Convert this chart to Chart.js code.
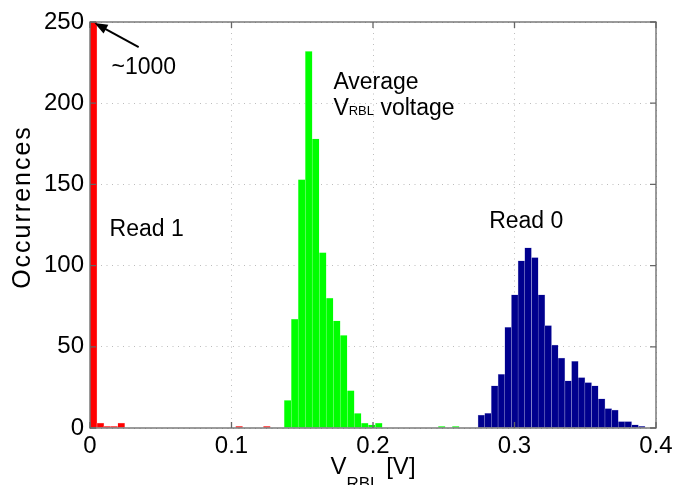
<!DOCTYPE html>
<html>
<head>
<meta charset="utf-8">
<script src="https://cdn.jsdelivr.net/npm/chart.js@4.4.1/dist/chart.umd.min.js"></script>
<style>
  html, body { margin: 0; padding: 0; background: #fff; }
</style>
</head>
<body>
<canvas id="hist" width="689" height="485"></canvas>
<script>
// bin centres [V] and counts
const redBins = [0.0025, 0.0074, 0.0123, 0.0172, 0.0221, 0.1054, 0.1250];
const redCounts = [1000, 3, 1, 1, 3, 1, 1];

const greenBins = [0.1397, 0.1447, 0.1496, 0.1546, 0.1595, 0.1645, 0.1694, 0.1744,
  0.1793, 0.1843, 0.1892, 0.1942, 0.1991, 0.2041, 0.2486, 0.2585];
const greenCounts = [17, 67, 153, 232, 178, 108, 80, 66, 57, 23, 9, 3, 2, 3, 1, 1];

const blueBins = [0.2766, 0.2813, 0.2860, 0.2908, 0.2955, 0.3002, 0.3049, 0.3096,
  0.3144, 0.3191, 0.3238, 0.3285, 0.3332, 0.3380, 0.3427, 0.3474, 0.3521, 0.3568,
  0.3616, 0.3663, 0.3710, 0.3757, 0.3804, 0.3852, 0.3899];
const blueCounts = [8, 9, 26, 33, 62, 82, 103, 111, 105, 82, 63, 51, 43, 29, 41, 31,
  28, 26, 18, 12, 11, 4, 4, 2, 1];

const xTicks = [0, 0.1, 0.2, 0.3, 0.4];
const yTicks = [0, 50, 100, 150, 200, 250];

const FONT = '"Liberation Sans", Arial, Helvetica, sans-serif';

function toPoints(bins, counts) {
  return bins.map((b, i) => ({ x: b, y: counts[i] }));
}

// text with a small subscript, starting at x on baseline y
function subText(ctx, parts, x, y) {
  parts.forEach(p => {
    ctx.font = p.size + 'px ' + FONT;
    ctx.fillText(p.t, x, y + (p.dy || 0));
    x += ctx.measureText(p.t).width;
  });
  return x;
}

function partsWidth(ctx, parts) {
  let w = 0;
  parts.forEach(p => {
    ctx.font = p.size + 'px ' + FONT;
    w += ctx.measureText(p.t).width;
  });
  return w;
}

const frame = {
  id: 'frame',
  afterDatasetsDraw(chart) {
    const { ctx, chartArea: a } = chart;
    const x = chart.scales.x, y = chart.scales.y;
    ctx.save();

    // box and inward ticks
    ctx.strokeStyle = '#666';
    ctx.lineWidth = 1.3;
    ctx.strokeRect(a.left, a.top, a.right - a.left, a.bottom - a.top);
    ctx.beginPath();
    xTicks.forEach(v => {
      const px = x.getPixelForValue(v);
      ctx.moveTo(px, a.bottom); ctx.lineTo(px, a.bottom - 6);
      ctx.moveTo(px, a.top); ctx.lineTo(px, a.top + 6);
    });
    yTicks.forEach(v => {
      const py = y.getPixelForValue(v);
      ctx.moveTo(a.left, py); ctx.lineTo(a.left + 6, py);
      ctx.moveTo(a.right, py); ctx.lineTo(a.right - 6, py);
    });
    ctx.stroke();

    // arrow to the clipped Read 1 bar
    const tx = x.getPixelForValue(0.0344), ty = y.getPixelForValue(234.6);
    const hx = x.getPixelForValue(0.0032), hy = y.getPixelForValue(249.4);
    const ang = Math.atan2(hy - ty, hx - tx);
    ctx.strokeStyle = '#000';
    ctx.fillStyle = '#000';
    ctx.lineWidth = 2;
    ctx.beginPath();
    ctx.moveTo(tx, ty);
    ctx.lineTo(hx - 8 * Math.cos(ang), hy - 8 * Math.sin(ang));
    ctx.stroke();
    ctx.beginPath();
    ctx.moveTo(hx, hy);
    ctx.lineTo(hx - 13 * Math.cos(ang) + 5 * Math.sin(ang), hy - 13 * Math.sin(ang) - 5 * Math.cos(ang));
    ctx.lineTo(hx - 13 * Math.cos(ang) - 5 * Math.sin(ang), hy - 13 * Math.sin(ang) + 5 * Math.cos(ang));
    ctx.closePath();
    ctx.fill();

    // annotations
    ctx.textAlign = 'left';
    ctx.textBaseline = 'alphabetic';
    ctx.font = '23px ' + FONT;
    ctx.fillText('~1000', x.getPixelForValue(0.0152), y.getPixelForValue(218));
    ctx.fillText('Read 1', x.getPixelForValue(0.0138), y.getPixelForValue(118));
    ctx.fillText('Read 0', x.getPixelForValue(0.2821), y.getPixelForValue(123));
    ctx.fillText('Average', x.getPixelForValue(0.172), y.getPixelForValue(209));
    subText(ctx, [
      { t: 'V', size: 23 },
      { t: 'RBL', size: 13 },
      { t: ' voltage', size: 23 }
    ], x.getPixelForValue(0.172), y.getPixelForValue(193));

    // axis titles
    const xt = [
      { t: 'V', size: 24 },
      { t: 'RBL', size: 17, dy: 15 },
      { t: ' [V]', size: 24 }
    ];
    const cx = (a.left + a.right) / 2;
    subText(ctx, xt, cx - partsWidth(ctx, xt) / 2, 474);

    ctx.save();
    ctx.translate(23, 207);
    ctx.rotate(-Math.PI / 2);
    ctx.textAlign = 'center';
    ctx.textBaseline = 'middle';
    ctx.font = '25px ' + FONT;
    ctx.letterSpacing = '2px';
    ctx.fillText('Occurrences', 0, 0);
    ctx.restore();

    ctx.restore();
  }
};

new Chart(document.getElementById('hist'), {
  type: 'bar',
  data: {
    datasets: [
      {
        label: 'Read 1',
        data: toPoints(redBins, redCounts),
        backgroundColor: '#ff0000',
        borderColor: '#ffb4b4',
        borderWidth: 0.5,
        barThickness: 6.9,
        grouped: false
      },
      {
        label: 'Average VRBL voltage',
        data: toPoints(greenBins, greenCounts),
        backgroundColor: '#00ff00',
        borderColor: '#c4ffc4',
        borderWidth: 0.5,
        barThickness: 7,
        grouped: false
      },
      {
        label: 'Read 0',
        data: toPoints(blueBins, blueCounts),
        backgroundColor: '#00008e',
        borderColor: '#a0a0d8',
        borderWidth: 0.5,
        barThickness: 6.66,
        grouped: false
      }
    ]
  },
  options: {
    responsive: false,
    animation: false,
    devicePixelRatio: 1,
    layout: { padding: { top: 22, right: 33, left: 0, bottom: 0 } },
    plugins: {
      legend: { display: false },
      tooltip: { enabled: false }
    },
    scales: {
      x: {
        type: 'linear',
        min: 0,
        max: 0.4,
        offset: false,
        afterBuildTicks: s => { s.ticks = xTicks.map(v => ({ value: v })); },
        afterFit: s => { s.height = 57; },
        grid: { offset: false, color: '#bdbdbd', drawTicks: false, lineWidth: 1 },
        border: { display: false, dash: [1, 4.5] },
        ticks: { color: '#000', font: { family: FONT, size: 24 }, padding: 4, maxRotation: 0 }
      },
      y: {
        min: 0,
        max: 250,
        afterBuildTicks: s => { s.ticks = yTicks.map(v => ({ value: v })); },
        afterFit: s => { s.width = 90; },
        grid: { color: '#bdbdbd', drawTicks: false, lineWidth: 1 },
        border: { display: false, dash: [1, 4.5] },
        ticks: { color: '#000', font: { family: FONT, size: 24 }, padding: 6 }
      }
    }
  },
  plugins: [frame]
});
</script>
</body>
</html>
